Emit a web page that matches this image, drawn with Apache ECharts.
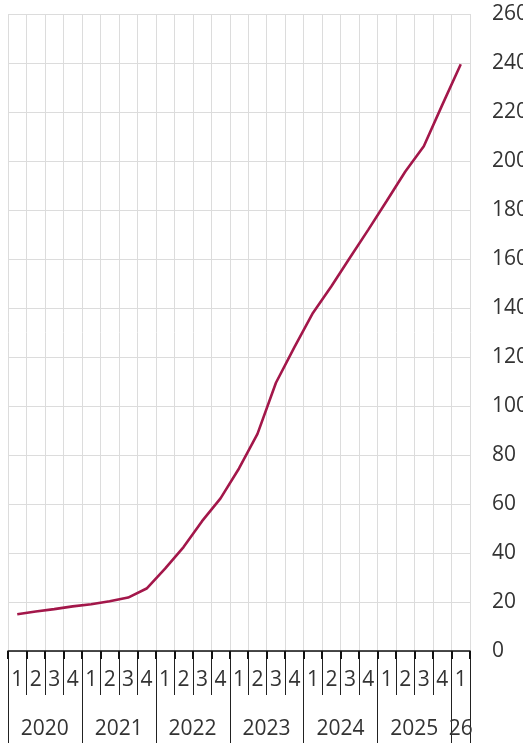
<!DOCTYPE html>
<html>
<head>
<meta charset="utf-8">
<script src="https://cdn.jsdelivr.net/npm/echarts@6/dist/echarts.min.js"></script>
<style>
html,body{margin:0;padding:0;background:#fff;}
#chart{width:523px;height:743px;}
</style>
</head>
<body>
<div id="chart"></div>
<script>
// Quarter categories 2020Q1 .. 2026Q1
const quarterLabels = ['1','2','3','4','1','2','3','4','1','2','3','4','1','2','3','4','1','2','3','4','1','2','3','4','1'];
const yearLabels = ['','2020','','','','2021','','','','2022','','','','2023','','','','2024','','','','2025','','','26'];
const values = [15.0, 16.1, 17.1, 18.2, 19.1, 20.3, 21.8, 25.5, 33.6, 42.4, 53.0, 62.3, 74.5, 88.6, 109.5, 124.0, 138.0, 148.9, 160.5, 172.0, 183.8, 195.7, 206.0, 222.9, 239.5];
const yTicks = {min: 0, max: 260, interval: 20};

const FONT = 'Open Sans';
const chart = echarts.init(document.getElementById('chart'), null, {renderer: 'canvas'});
chart.setOption({
  animation: false,
  backgroundColor: '#ffffff',
  grid: {left: 8, right: 53, top: 14, bottom: 92, containLabel: false, outerBoundsMode: 'none'},
  xAxis: [
    {
      type: 'category',
      data: quarterLabels,
      position: 'bottom',
      boundaryGap: true,
      axisLine: {show: true, onZero: false, lineStyle: {color: '#111', width: 1.5}},
      axisTick: {show: true, interval: 0, length: 44, lineStyle: {color: '#222', width: 1}},
      axisLabel: {interval: 0, margin: 19, fontSize: 21, fontFamily: FONT, color: '#333'},
      splitLine: {show: true, interval: 0, lineStyle: {color: '#dcdcdc', width: 1}}
    },
    {
      type: 'category',
      data: yearLabels,
      position: 'bottom',
      boundaryGap: true,
      axisLine: {show: false},
      axisTick: {show: true, interval: function (i) { return i % 4 === 0; }, length: 92, lineStyle: {color: '#222', width: 1}},
      axisLabel: {
        interval: 0, margin: 68, fontSize: 21, fontFamily: FONT, color: '#333',
        formatter: function (v) { return v.length === 4 ? '{y|' + v + '}' : v; },
        rich: {y: {fontSize: 21, fontFamily: FONT, color: '#333', padding: [0, 0, 0, 18]}}
      },
      splitLine: {show: false}
    },
    {
      type: 'category',
      data: quarterLabels,
      position: 'bottom',
      boundaryGap: true,
      axisLine: {show: false},
      axisTick: {show: true, interval: 0, length: 8, lineStyle: {color: '#111', width: 2}},
      axisLabel: {show: false},
      splitLine: {show: false}
    }
  ],
  yAxis: {
    type: 'value',
    position: 'right',
    min: yTicks.min, max: yTicks.max, interval: yTicks.interval,
    axisLine: {show: false},
    axisTick: {show: false},
    axisLabel: {margin: 22, fontSize: 21, fontFamily: FONT, color: '#333'},
    splitLine: {show: true, lineStyle: {color: '#dcdcdc', width: 1}}
  },
  series: [{
    type: 'line',
    data: values,
    xAxisIndex: 0,
    showSymbol: false,
    symbol: 'none',
    smooth: false,
    lineStyle: {color: '#a3174a', width: 2.6},
    z: 5
  }]
});
</script>
</body>
</html>
